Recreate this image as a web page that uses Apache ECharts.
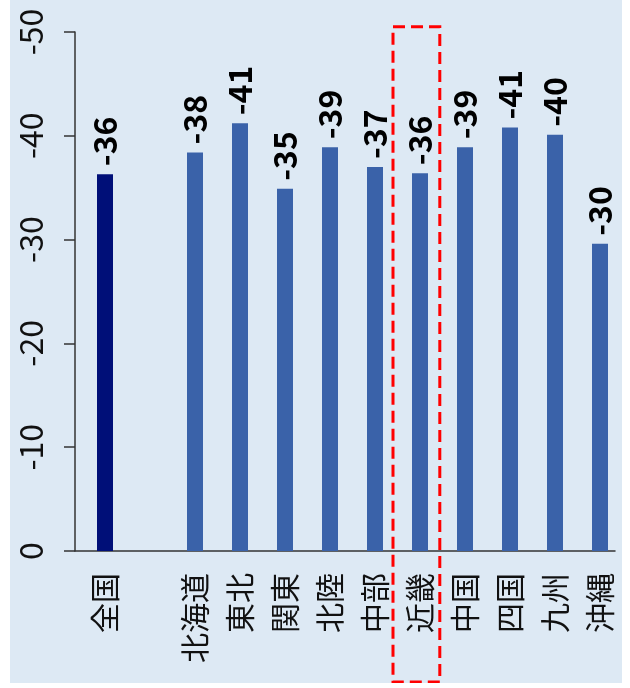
<!DOCTYPE html>
<html>
<head>
<meta charset="utf-8">
<script src="https://cdn.jsdelivr.net/npm/echarts@6.0.0/dist/echarts.min.js"></script>
<style>
  html, body { margin: 0; padding: 0; background: #fff; }
  #chart { position: absolute; left: 10px; top: 0; width: 612px; height: 683px; background: #dde9f4; }
</style>
</head>
<body>
<div id="chart"></div>
<script>
// regions (blank slot between 全国 and 北海道)
const categories = ['全国', '', '北海道', '東北', '関東', '北陸', '中部', '近畿', '中国', '四国', '九州', '沖縄'];
const values = [-36.3, null, -38.4, -41.2, -34.9, -38.9, -37.0, -36.4, -38.9, -40.8, -40.1, -29.6];
const yTicks = [0, -10, -20, -30, -40, -50];
const highlightRegion = '近畿';

const FONT = "'Noto Sans CJK JP', 'Noto Sans', sans-serif";

const chart = echarts.init(document.getElementById('chart'));

const barData = [];
categories.forEach((name, i) => {
  if (values[i] === null) return;
  barData.push({
    value: [i, values[i]],
    itemStyle: { color: name === '全国' ? '#000f78' : '#3a62a9' }
  });
});
const labelIdx = categories.map((c, i) => i).filter(i => categories[i] !== '');

chart.setOption({
  animation: false,
  grid: { left: 65, right: 7, top: 32, bottom: 132 },
  xAxis: {
    type: 'value',
    min: -2 / 3,
    max: 34 / 3,
    splitLine: { show: false },
    axisTick: { show: false },
    axisLine: { show: true, onZero: false, lineStyle: { color: '#333', width: 1.5 } },
    axisLabel: {
      customValues: labelIdx,
      formatter: v => categories[Math.round(v)],
      rotate: 90,
      margin: 22,
      color: '#111',
      fontSize: 30,
      fontFamily: FONT
    }
  },
  yAxis: {
    type: 'value',
    inverse: true,
    min: -50,
    max: 0,
    interval: 10,
    splitLine: { show: false },
    axisLine: { show: true, onZero: false, lineStyle: { color: '#333', width: 1.5 } },
    axisTick: { show: true, inside: false, length: 11, lineStyle: { color: '#333', width: 1.5 } },
    axisLabel: {
      rotate: 90,
      margin: 28,
      color: '#111',
      fontSize: 32,
      fontFamily: FONT,
      formatter: v => (yTicks.includes(v) ? String(v) : '')
    }
  },
  series: [{
    type: 'bar',
    barWidth: 16,
    data: barData,
    label: {
      show: true,
      position: 'outside',
      distance: 8,
      rotate: 90,
      align: 'left',
      verticalAlign: 'middle',
      color: '#000',
      fontSize: 32,
      fontWeight: 'bold',
      fontFamily: FONT,
      formatter: p => p.value[1].toFixed(0)
    }
  }]
});

// red dashed box around the highlighted region
const hi = categories.indexOf(highlightRegion);
const pLeft = chart.convertToPixel({ xAxisIndex: 0, yAxisIndex: 0 }, [hi - 0.6, -50.5]);
const pRight = chart.convertToPixel({ xAxisIndex: 0, yAxisIndex: 0 }, [hi + 0.44, -50.5]);
chart.setOption({
  graphic: [{
    type: 'rect',
    silent: true,
    z: 100,
    shape: { x: pLeft[0], y: pLeft[1], width: pRight[0] - pLeft[0], height: chart.getHeight() - 1 - pLeft[1] },
    style: { fill: 'none', stroke: '#ff0000', lineWidth: 3, lineDash: [12, 6] }
  }]
});
</script>
</body>
</html>
